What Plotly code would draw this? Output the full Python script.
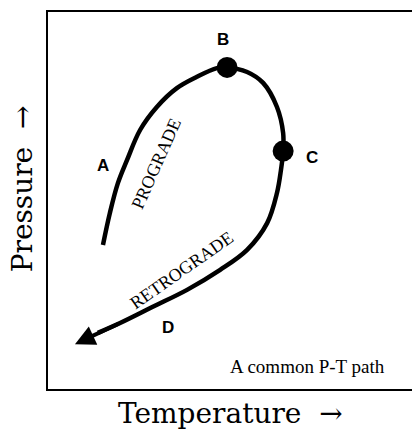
import plotly.graph_objects as go

# P-T path (arbitrary units: temperature 0-100, pressure 0-100)
path_T = [15.1, 17.0, 19.2, 21.7, 25.3, 29.9, 35.4, 40.9, 46.4, 49.2,
          54.7, 59.1, 62.9, 64.6, 64.6, 64.0, 62.9, 60.2, 54.7, 47.3,
          38.2, 28.8, 19.8, 13.7]
path_P = [38.2, 46.7, 54.6, 60.7, 68.7, 74.8, 79.8, 82.8, 85.1, 85.3,
          84.1, 81.2, 74.8, 67.9, 63.1, 58.1, 52.0, 44.0, 36.9, 31.6,
          26.3, 21.8, 17.5, 14.9]
arrow_tip = (7.4, 11.9)

# key points B and C
pt_names = ["B", "C"]
pt_T = [49.2, 64.6]
pt_P = [85.3, 63.1]

# letter labels
lab_text = ["A", "B", "C", "D"]
lab_T = [15.1, 48.1, 72.5, 33.0]
lab_P = [59.2, 92.8, 61.5, 16.2]

fig = go.Figure()
fig.add_trace(go.Scatter(x=path_T, y=path_P, mode="lines",
                         line=dict(color="black", width=4.5, shape="spline", smoothing=1.0),
                         hoverinfo="skip", showlegend=False))
fig.add_trace(go.Scatter(x=pt_T, y=pt_P, mode="markers", text=pt_names,
                         marker=dict(color="black", size=21),
                         hoverinfo="text", showlegend=False))

# arrow head at end of retrograde path
fig.add_annotation(x=arrow_tip[0], y=arrow_tip[1], ax=path_T[-2], ay=path_P[-2],
                   xref="x", yref="y", axref="x", ayref="y", text="",
                   showarrow=True, arrowhead=2, arrowsize=1.0, arrowwidth=4,
                   arrowcolor="black", standoff=0, startstandoff=0)

for t, x, y in zip(lab_text, lab_T, lab_P):
    fig.add_annotation(x=x, y=y, xref="x", yref="y", text="<b>" + t + "</b>", showarrow=False,
                       font=dict(family="Liberation Sans", size=17, color="black"),
                       xanchor="center", yanchor="middle")

# curve labels
fig.add_annotation(x=29.7, y=59.7, text="PROGRADE", textangle=-66, showarrow=False,
                   font=dict(family="Liberation Serif", size=18, color="black"))
fig.add_annotation(x=36.8, y=31.6, text="RETROGRADE", textangle=-35, showarrow=False,
                   font=dict(family="Liberation Serif", size=18, color="black"))
fig.add_annotation(x=71.2, y=6.1, text="A common P-T path", showarrow=False,
                   font=dict(family="Liberation Serif", size=19, color="black"))

# axis titles
fig.add_annotation(xref="paper", yref="paper", x=0.5, y=-0.066, text="Temperature  →",
                   showarrow=False, xanchor="center", yanchor="middle",
                   font=dict(family="DejaVu Serif", size=28, color="black"))
fig.add_annotation(xref="paper", yref="paper", x=-0.071, y=0.53, text="Pressure  →",
                   textangle=-90, showarrow=False, xanchor="center", yanchor="middle",
                   font=dict(family="DejaVu Serif", size=28, color="black"))

fig.update_xaxes(range=[0, 100], showgrid=False, zeroline=False, showticklabels=False,
                 ticks="", showline=True, mirror=True, linecolor="black", linewidth=2)
fig.update_yaxes(range=[0, 100], showgrid=False, zeroline=False, showticklabels=False,
                 ticks="", showline=True, mirror=False, linecolor="black", linewidth=2)

fig.update_layout(width=412, height=431, margin=dict(l=48, r=0, t=12, b=42),
                  plot_bgcolor="white", paper_bgcolor="white", showlegend=False,
                  font=dict(family="Liberation Serif"))
fig.write_html("out.html", config={"displayModeBar": False},
               post_script="document.body.style.margin='0';document.body.style.overflow='hidden';")
